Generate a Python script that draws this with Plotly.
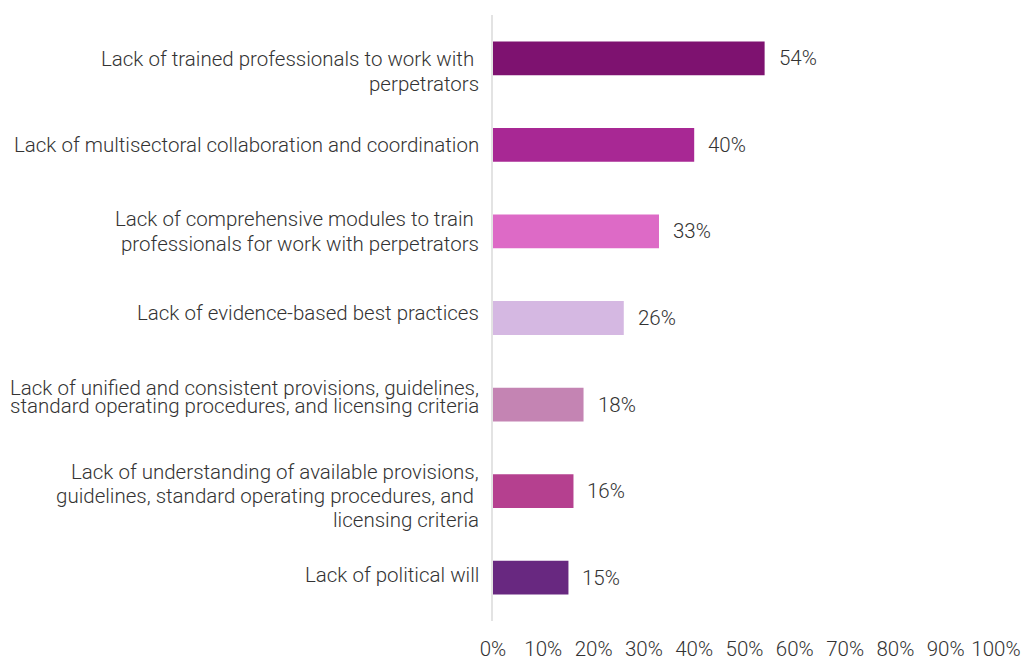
import plotly.graph_objects as go

# Survey results: barriers to working with perpetrators (share of respondents, %)
categories = [
    "Lack of trained professionals to work with perpetrators",
    "Lack of multisectoral collaboration and coordination",
    "Lack of comprehensive modules to train professionals for work with perpetrators",
    "Lack of evidence-based best practices",
    "Lack of unified and consistent provisions, guidelines, standard operating procedures, and licensing criteria",
    "Lack of understanding of available provisions, guidelines, standard operating procedures, and licensing criteria",
    "Lack of political will",
]
values = [54, 40, 33, 26, 18, 16, 15]

# Category labels as they are broken over lines
label_lines = [
    ["Lack of trained professionals to work with\u00a0", "perpetrators"],
    ["Lack of multisectoral collaboration and coordination"],
    ["Lack of comprehensive modules to train\u00a0", "professionals for work with perpetrators"],
    ["Lack of evidence-based best practices"],
    ["Lack of unified and consistent provisions, guidelines,",
     "standard operating procedures, and licensing criteria"],
    ["Lack of understanding of available provisions,",
     "guidelines, standard operating procedures, and\u00a0", "licensing criteria"],
    ["Lack of political will"],
]

bar_colors = ["#7E1270", "#A82894", "#DD6AC6", "#D5B8E2", "#C484B3", "#B5408F", "#682880"]
tick_values = list(range(0, 101, 10))
tick_labels = [f"{t}%" for t in tick_values]

FONT = "Roboto"
TEXT_COLOR = "#333333"
FSIZE = 20.5

# vertical offsets (px) of each label line from its bar centre
line_offsets = [
    [1, 26],
    [0],
    [-12, 13],
    [-5],
    [-17, 1],
    [-19, 5, 29],
    [-3],
]

fig = go.Figure(
    go.Bar(
        x=values,
        y=categories,
        orientation="h",
        marker=dict(color=bar_colors, line=dict(width=0)),
        hoverinfo="skip",
    )
)

annotations = []
for cat, lines, offs in zip(categories, label_lines, line_offsets):
    for line, off in zip(lines, offs):
        annotations.append(dict(
            x=0, xref="paper", y=cat, yref="y",
            text=line, showarrow=False,
            xanchor="right", yanchor="middle",
            xshift=-12, yshift=-off,
            font=dict(family=FONT, size=FSIZE, color=TEXT_COLOR, weight=300),
        ))

for cat, v in zip(categories, values):
    annotations.append(dict(
        x=v, xref="x", y=cat, yref="y",
        text=f"{v}%", showarrow=False,
        xanchor="left", yanchor="middle",
        xshift=12, yshift=0,
        font=dict(family=FONT, size=FSIZE, color=TEXT_COLOR, weight=300),
    ))

fig.update_layout(
    width=1022, height=658,
    margin=dict(l=493, r=26, t=15, b=37, autoexpand=False),
    paper_bgcolor="white", plot_bgcolor="white",
    bargap=0.61,
    showlegend=False,
    annotations=annotations,
    xaxis=dict(
        range=[0, 100],
        tickvals=tick_values, ticktext=tick_labels,
        showgrid=False, zeroline=False, showline=False,
        ticks="outside", ticklen=9, tickcolor="rgba(0,0,0,0)",
        tickfont=dict(family=FONT, size=FSIZE, color=TEXT_COLOR, weight=300),
        automargin=False,
        fixedrange=True,
    ),
    yaxis=dict(
        autorange="reversed",
        showticklabels=False,
        showgrid=False, zeroline=False,
        showline=True, linecolor="#e3e3e3", linewidth=2,
        ticks="",
        automargin=False,
        fixedrange=True,
    ),
)

fig.write_html("out.html")
